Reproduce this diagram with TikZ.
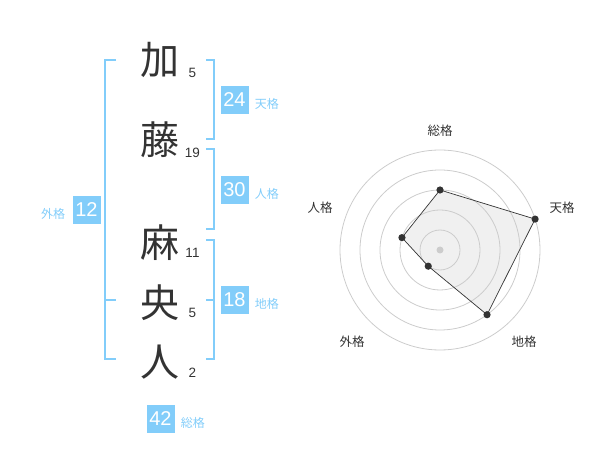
\documentclass[tikz,border=0pt]{standalone}
\usepackage{fontspec}
\setmainfont{Liberation Sans}
\newfontfamily\jp{Noto Sans CJK JP}
\usetikzlibrary{positioning}

\begin{document}
\begin{tikzpicture}[x=1pt,y=-1pt,
    kanji/.style={font=\jp\fontsize{39}{39}\selectfont, text=ink},
    strokes/.style={font=\fontsize{13.5}{13.5}\selectfont, text=ink},
    kaku/.style={fill=sky, text=white, minimum size=28pt, inner sep=0pt,
                 font=\fontsize{20}{20}\selectfont},
    kakulbl/.style={font=\jp\fontsize{12}{12}\selectfont, text=sky, inner sep=0pt},
    bracket/.style={draw=sky, line width=2pt},
    axislbl/.style={font=\jp\fontsize{12.5}{12.5}\selectfont, text=ink}]
  % Couleurs
  \definecolor{sky}{RGB}{130, 205, 250}   % Bleu ciel
  \definecolor{ink}{RGB}{51, 51, 51}      % Gris foncé
  \definecolor{ring}{RGB}{204, 204, 204}  % Gris clair
  \definecolor{area}{RGB}{240, 240, 240}  % Gris très clair

  \useasboundingbox (0,0) rectangle (600,470);

  % Caractères du nom
  \node[kanji] (k1) at (160,60) {加};
  \node[kanji] (k2) at (160,140) {藤};
  \node[kanji] (k3) at (160,243) {麻};
  \node[kanji] (k4) at (160,303) {央};
  \node[kanji] (k5) at (160,362) {人};

  % Nombre de traits
  \node[strokes] (n1) at (192.5,73) {5};
  \node[strokes] (n2) at (192.5,153) {19};
  \node[strokes] (n3) at (192.5,253) {11};
  \node[strokes] (n4) at (192.5,313) {5};
  \node[strokes] (n5) at (192.5,373) {2};

  % Crochets
  \draw[bracket] (116,60) -- (105,60) -- (105,359) -- (116,359);
  \draw[bracket] (105,300) -- (116,300);
  \draw[bracket] (206,60) -- (214,60) -- (214,139) -- (206,139);
  \draw[bracket] (206,149) -- (214,149) -- (214,229) -- (206,229);
  \draw[bracket] (206,240) -- (214,240) -- (214,359) -- (206,359);
  \draw[bracket] (214,300) -- (206,300);

  % Cases des cinq kaku
  \node[kaku] (ten) at (234.5,100) {24};
  \node[kaku] (jin) at (234.5,190) {30};
  \node[kaku] (chi) at (234.5,300) {18};
  \node[kaku] (gai) at (86.5,210) {12};
  \node[kaku] (sou) at (160.5,419) {42};
  \node[kakulbl, base right=6pt of ten, yshift=-1.5pt] (tenL) {天格};
  \node[kakulbl, base right=6pt of jin, yshift=-1.5pt] (jinL) {人格};
  \node[kakulbl, base right=6pt of chi, yshift=-1.5pt] (chiL) {地格};
  \node[kakulbl, base left=7pt of gai, yshift=-1.5pt] (gaiL) {外格};
  \node[kakulbl, base right=6pt of sou, yshift=-1.5pt] (souL) {総格};

  % Diagramme radar
  \begin{scope}[shift={(440,250)}, y=1pt]
    \coordinate (pSou) at (90:60);
    \coordinate (pTen) at (18:100);
    \coordinate (pChi) at (-54:80);
    \coordinate (pGai) at (234:20);
    \coordinate (pJin) at (162:40);
    \fill[area] (pSou) -- (pTen) -- (pChi) -- (pGai) -- (pJin) -- cycle;

    \foreach \r in {20,40,60,80,100}
      \draw[ring, line width=0.8pt] (0,0) circle (\r);
    \fill[ring] (0,0) circle (3.5);

    \draw[ink, line width=0.7pt]
      (pSou) -- (pTen) -- (pChi) -- (pGai) -- (pJin) -- cycle;
    \foreach \p in {pSou,pTen,pChi,pGai,pJin}
      \fill[ink] (\p) circle (3.6);

    % Étiquettes des axes
    \node[axislbl] (aSou) at (0,119) {総格};
    \node[axislbl] (aTen) at (122,42) {天格};
    \node[axislbl] (aJin) at (-120,42) {人格};
    \node[axislbl] (aGai) at (-88,-92) {外格};
    \node[axislbl] (aChi) at (84,-92) {地格};
  \end{scope}
\end{tikzpicture}
\end{document}
